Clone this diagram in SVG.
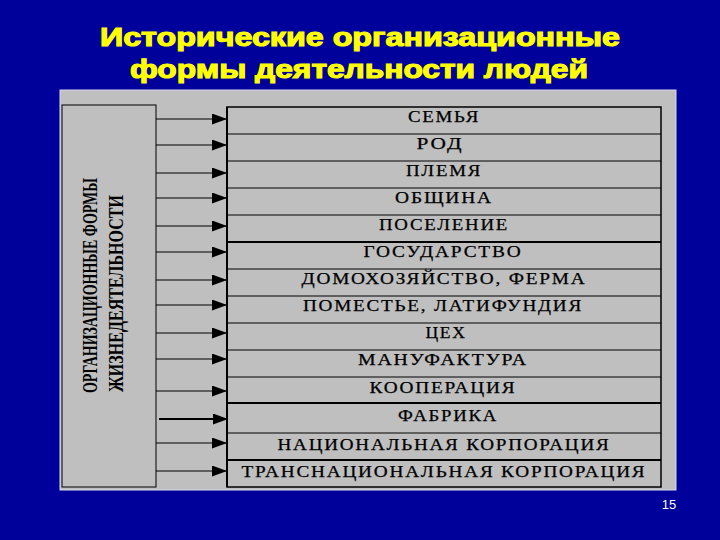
<svg xmlns="http://www.w3.org/2000/svg" width="720" height="540" viewBox="0 0 720 540">
<defs>
<style>
.title{font-family:"Liberation Sans",Arial,sans-serif;font-weight:bold;font-size:25px;fill:#FFFF00;stroke:#FFFF00;stroke-width:1.1px;text-anchor:start}
.row{font-family:"Liberation Serif","Times New Roman",serif;font-size:16px;letter-spacing:1.5px;fill:#000;stroke:#000;stroke-width:0.25px;text-anchor:middle}
.vert{font-family:"Liberation Serif","Times New Roman",serif;font-weight:bold;font-size:21px;fill:#000}
.thin{stroke:#000;stroke-width:1}
.thick{stroke:#000;stroke-width:2}
.arr{stroke:#000;stroke-width:1.2;fill:none;marker-end:url(#ah)}
</style>
<marker id="ah" markerWidth="15" markerHeight="11" refX="15" refY="5.5" orient="auto" markerUnits="userSpaceOnUse">
<path d="M0,0 L15,5.5 L0,11 z" fill="#000"/>
</marker>
</defs>
<rect x="0" y="0" width="720" height="540" fill="#00009A"/>
<g id="title">
<text class="title" x="100" y="46" textLength="520" lengthAdjust="spacingAndGlyphs">Исторические организационные</text>
<text class="title" x="130" y="78" textLength="458" lengthAdjust="spacingAndGlyphs">формы деятельности людей</text>
</g>
<rect x="60" y="90" width="616" height="400" fill="#BFBFBF" stroke="#D8D8E8" stroke-width="1"/>
<g id="left-box">
<rect x="62" y="105" width="94" height="382" fill="#BFBFBF" stroke="#000" stroke-width="1"/>
<text class="vert" transform="translate(97,393) rotate(-90)" textLength="215" lengthAdjust="spacingAndGlyphs">ОРГАНИЗАЦИОННЫЕ ФОРМЫ</text>
<text class="vert" transform="translate(123,392) rotate(-90)" textLength="197" lengthAdjust="spacingAndGlyphs">ЖИЗНЕДЕЯТЕЛЬНОСТИ</text>
</g>
<g id="table">
<rect x="227" y="107" width="434" height="380" fill="#BFBFBF" stroke="#000" stroke-width="1.5"/>
<line class="thick" x1="227" y1="107" x2="227" y2="487"/>
<line class="thin" x1="227" y1="134" x2="661" y2="134"/>
<line class="thin" x1="227" y1="161" x2="661" y2="161"/>
<line class="thin" x1="227" y1="188" x2="661" y2="188"/>
<line class="thin" x1="227" y1="215" x2="661" y2="215"/>
<line class="thick" x1="227" y1="242" x2="661" y2="242"/>
<line class="thin" x1="227" y1="269" x2="661" y2="269"/>
<line class="thin" x1="227" y1="296" x2="661" y2="296"/>
<line class="thin" x1="227" y1="323" x2="661" y2="323"/>
<line class="thin" x1="227" y1="350" x2="661" y2="350"/>
<line class="thin" x1="227" y1="377" x2="661" y2="377"/>
<line class="thick" x1="227" y1="403" x2="661" y2="403"/>
<line class="thin" x1="227" y1="433" x2="661" y2="433"/>
<line class="thick" x1="227" y1="460" x2="661" y2="460"/>
</g>
<g id="row-1"><text class="row" x="444" y="122" textLength="72" lengthAdjust="spacingAndGlyphs">СЕМЬЯ</text></g>
<g id="row-2"><text class="row" x="440" y="149" textLength="47" lengthAdjust="spacingAndGlyphs">РОД</text></g>
<g id="row-3"><text class="row" x="444" y="176" textLength="76" lengthAdjust="spacingAndGlyphs">ПЛЕМЯ</text></g>
<g id="row-4"><text class="row" x="444" y="203" textLength="98" lengthAdjust="spacingAndGlyphs">ОБЩИНА</text></g>
<g id="row-5"><text class="row" x="444" y="230" textLength="130" lengthAdjust="spacingAndGlyphs">ПОСЕЛЕНИЕ</text></g>
<g id="row-6"><text class="row" x="443" y="257" textLength="159" lengthAdjust="spacingAndGlyphs">ГОСУДАРСТВО</text></g>
<g id="row-7"><text class="row" x="444" y="284" textLength="285" lengthAdjust="spacingAndGlyphs">ДОМОХОЗЯЙСТВО, ФЕРМА</text></g>
<g id="row-8"><text class="row" x="443" y="311" textLength="280" lengthAdjust="spacingAndGlyphs">ПОМЕСТЬЕ, ЛАТИФУНДИЯ</text></g>
<g id="row-9"><text class="row" x="446" y="338" textLength="41" lengthAdjust="spacingAndGlyphs">ЦЕХ</text></g>
<g id="row-10"><text class="row" x="443" y="365" textLength="170" lengthAdjust="spacingAndGlyphs">МАНУФАКТУРА</text></g>
<g id="row-11"><text class="row" x="443" y="393" textLength="147" lengthAdjust="spacingAndGlyphs">КООПЕРАЦИЯ</text></g>
<g id="row-12"><text class="row" x="448" y="421" textLength="100" lengthAdjust="spacingAndGlyphs">ФАБРИКА</text></g>
<g id="row-13"><text class="row" x="444" y="450" textLength="333" lengthAdjust="spacingAndGlyphs">НАЦИОНАЛЬНАЯ КОРПОРАЦИЯ</text></g>
<g id="row-14"><text class="row" x="444" y="477" textLength="405" lengthAdjust="spacingAndGlyphs">ТРАНСНАЦИОНАЛЬНАЯ КОРПОРАЦИЯ</text></g>
<g id="connectors">
<line class="arr" x1="156" y1="119" x2="227" y2="119"/>
<line class="arr" x1="156" y1="145" x2="227" y2="145"/>
<line class="arr" x1="156" y1="173" x2="227" y2="173"/>
<line class="arr" x1="156" y1="198" x2="227" y2="198"/>
<line class="arr" x1="156" y1="226" x2="227" y2="226"/>
<line class="arr" x1="156" y1="252" x2="227" y2="252"/>
<line class="arr" x1="156" y1="280" x2="227" y2="280"/>
<line class="arr" x1="156" y1="305" x2="227" y2="305"/>
<line class="arr" x1="156" y1="333" x2="227" y2="333"/>
<line class="arr" x1="156" y1="359" x2="227" y2="359"/>
<line class="arr" x1="156" y1="391" x2="227" y2="391"/>
<line class="arr" x1="159" y1="419" x2="228" y2="419" style="stroke-width:2"/>
<line class="arr" x1="156" y1="443" x2="227" y2="443"/>
<line class="arr" x1="156" y1="471" x2="227" y2="471"/>
</g>
<text x="669" y="509" font-family="'Liberation Sans',Arial,sans-serif" font-size="13" fill="#FFFFFF" text-anchor="middle">15</text>
</svg>
